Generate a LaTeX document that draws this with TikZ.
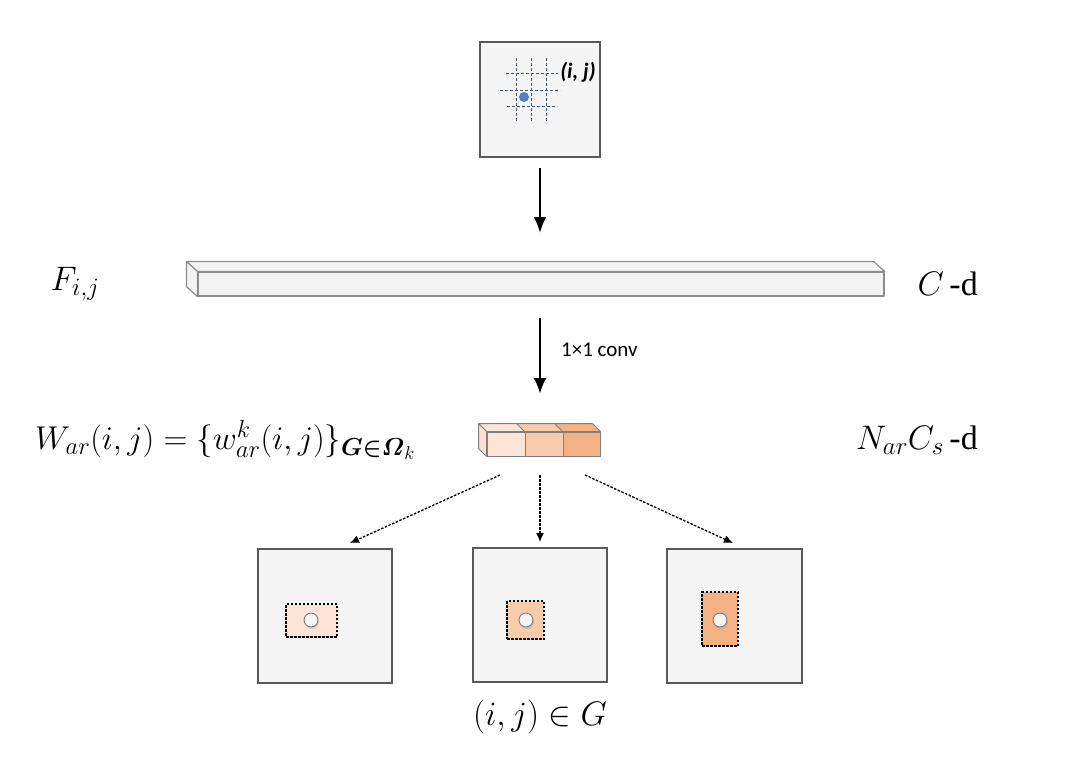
\RequirePackage{fix-cm}
\documentclass[tikz,border=0pt]{standalone}
\usepackage{amsmath}
\usepackage[no-math]{fontspec}
\setmainfont{Liberation Serif}
\newfontfamily\tnr{Liberation Serif}
\newfontfamily\carlito{Carlito}
\DeclareMathSizes{34}{34}{25}{19}
\DeclareMathSizes{33}{33}{24.5}{18.5}
\usetikzlibrary{arrows.meta,calc,shadows}
\definecolor{panelfill}{HTML}{F5F5F5}
\definecolor{paneldraw}{HTML}{595959}
\definecolor{bardraw}{HTML}{8C8C8C}
\definecolor{barfill}{HTML}{F3F3F3}
\definecolor{orA}{HTML}{FCE4D6}
\definecolor{orB}{HTML}{F8CBAD}
\definecolor{orC}{HTML}{F4B183}
\definecolor{cubedraw}{HTML}{7F7F7F}
\definecolor{gridblue}{HTML}{44546A}
\definecolor{dotblue}{HTML}{4F81BD}
\begin{document}
\begin{tikzpicture}[x=1pt,y=-1pt,
  panel/.style={draw=paneldraw, fill=panelfill, line width=1.2pt, inner sep=0pt},
  barface/.style={draw=bardraw, fill=barfill, line width=1.2pt, line join=round},
  cubeface/.style={draw=cubedraw, line width=1pt, line join=round},
  gridline/.style={draw=gridblue, densely dashed, line width=0.7pt},
  bigarrow/.style={line width=2.6pt, -{Latex[length=16pt,width=13pt]}},
  dasharrow/.style={line width=1.3pt, dash pattern=on 2.5pt off 1.5pt, -{Latex[length=9pt,width=8pt]}},
  region/.style={draw=black, dash pattern=on 2.5pt off 1.5pt, line width=1.4pt, inner sep=0pt},
  hole/.style={circle, draw=gray, fill=gray!8, line width=0.9pt, minimum size=14pt, inner sep=0pt,
    drop shadow={shadow xshift=1pt, shadow yshift=-2pt, opacity=0.25}},
  mathlbl/.style={font=\fontsize{34}{40}\selectfont, inner sep=0pt},
]
\useasboundingbox (0,0) rectangle (1080,761);

% top panel
\node[panel, minimum width=120pt, minimum height=115pt] (top) at (540,99.5) {};
\draw[gridline] (506,73) -- (558,73);
\draw[gridline] (500,90) -- (560,90);
\draw[gridline] (507,106) -- (557,106);
\draw[gridline] (516,58) -- (516,122);
\draw[gridline] (531,58) -- (531,122);
\draw[gridline] (546,58) -- (546,122);
\node[circle, fill=dotblue, minimum size=10pt, inner sep=0pt] (dot) at (524,97) {};
\node[font=\carlito\bfseries\itshape\fontsize{22}{26}\selectfont, inner sep=0pt] (ij) at (578,72) {(i, j)};

% long bar
\node[barface, minimum width=686pt, minimum height=24pt, inner sep=0pt] (bar) at (541,284) {};
\draw[barface] (bar.north west) -- ++(-11,-10) -- ($(bar.north east)+(-11,-10)$) -- (bar.north east) -- cycle;
\draw[barface] (bar.north west) -- ++(-11,-10) -- ($(bar.south west)+(-11,-10)$) -- (bar.south west) -- cycle;

% labels row 1
\node[mathlbl] (F) at (75,284) {$F_{i,j}$};
\node[mathlbl, anchor=east] (Cd) at (978,284) {$C$\,{\tnr -d}};

% arrows
\coordinate (a1s) at (540,168);
\coordinate (a1e) at (540,233);
\draw[bigarrow] (a1s) -- (a1e);
\coordinate (a2s) at (540,318);
\coordinate (a2e) at (540,394);
\draw[bigarrow] (a2s) -- (a2e);
\node[font=\carlito\fontsize{21}{25}\selectfont, anchor=west, inner sep=0pt] (conv) at (561,350) {1×1 conv};

% cubes
\node[cubeface, fill=orA, minimum width=38pt, minimum height=24pt, inner sep=0pt] (c1) at (506,444) {};
\node[cubeface, fill=orB, minimum width=38pt, minimum height=24pt, inner sep=0pt] (c2) at (544,444) {};
\node[cubeface, fill=orC, minimum width=37pt, minimum height=24pt, inner sep=0pt] (c3) at (581.5,444) {};
\foreach \c/\f in {c1/orA, c2/orB, c3/orC}{
  \draw[cubeface, fill=\f] (\c.north west) -- ++(-8,-8) -- ($(\c.north east)+(-8,-8)$) -- (\c.north east) -- cycle;
}
\draw[cubeface, fill=orA!90!orB] (c1.north west) -- ++(-8,-8) -- ($(c1.south west)+(-8,-8)$) -- (c1.south west) -- cycle;

% labels row 2
\node[font=\fontsize{33}{40}\selectfont, inner sep=0pt, anchor=west] (W) at (35,440) {$W_{ar}(i,j)=\{w_{ar}^{k}(i,j)\}_{\boldsymbol{G\in\varOmega}_k}$};
\node[mathlbl, anchor=east] (Nd) at (978,440) {$N_{ar}C_s$\,{\tnr -d}};

% bottom panels
\node[panel, minimum width=134pt, minimum height=134pt] (p1) at (325,616) {};
\node[panel, minimum width=134pt, minimum height=134pt] (p2) at (540,615) {};
\node[panel, minimum width=135pt, minimum height=134pt] (p3) at (734.5,616) {};

\node[region, fill=orA, minimum width=51pt, minimum height=33pt] (r1) at (311.5,620.5) {};
\node[region, fill=orB, minimum width=37pt, minimum height=38pt] (r2) at (525.5,620) {};
\node[region, fill=orC, minimum width=36pt, minimum height=54pt] (r3) at (720,619) {};
\node[hole] (h1) at (311,620) {};
\node[hole] (h2) at (526,620) {};
\node[hole] (h3) at (720,620) {};

% dashed arrows
\coordinate (d1s) at (500,475);
\coordinate (d2s) at (540,475);
\coordinate (d3s) at (585,475);
\coordinate (d1e) at (350,543);
\coordinate (d2e) at (540,542);
\coordinate (d3e) at (733,543);
\draw[dasharrow] (d1s) -- (d1e);
\draw[dasharrow] (d2s) -- (d2e);
\draw[dasharrow] (d3s) -- (d3e);

\node[mathlbl] (G) at (540,717) {$(i,j)\in G$};
\end{tikzpicture}
\end{document}
